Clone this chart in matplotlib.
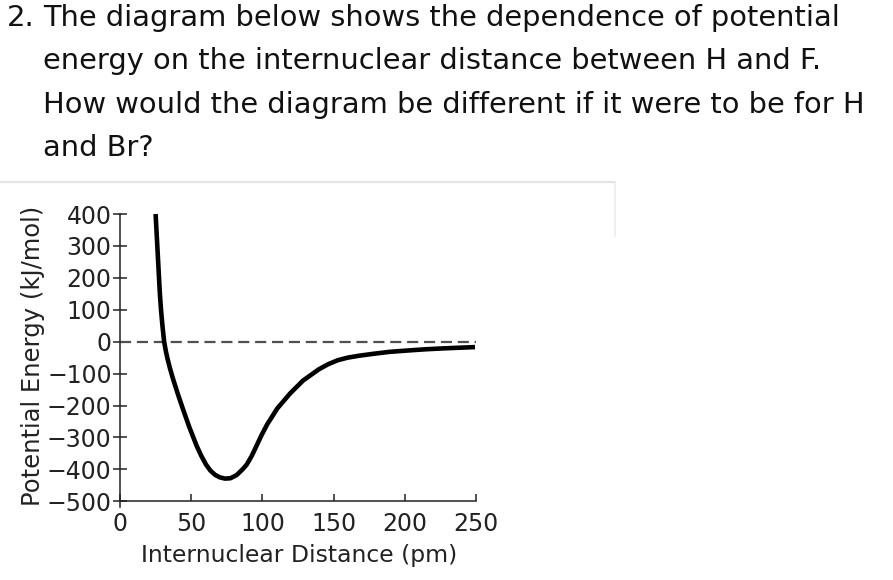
import matplotlib
matplotlib.use("Agg")
import matplotlib.pyplot as plt
from matplotlib.lines import Line2D

plt.rcParams['font.family'] = ['DejaVu Sans']

# curve (pm, kJ/mol)
distance = [25.0, 25.6, 26.2, 26.8, 27.4, 28.0, 28.8, 29.8, 31.0, 32.2, 33.5,
            35.0, 36.6, 38.4, 41.0, 44.5, 48.7, 53.8, 57.0, 60.4, 63.5, 66.7,
            70.0, 73.7, 77.5, 81.9, 86.5, 89.0, 92.5, 96.0, 99.5, 103.5,
            110.5, 119.5, 128.5, 139.5, 146.0, 153.0, 160.0, 168.0, 178.0,
            189.0, 201.0, 214.0, 227.0, 238.0, 249.3]
energy = [400, 350, 300, 250, 200, 150, 100, 50, 0, -30, -56,
          -82, -107, -133, -169, -215, -268, -326, -357, -385, -404, -417,
          -425, -429, -428, -418, -398, -385, -358, -325, -292, -258,
          -209, -162, -122, -87, -71, -58, -50, -44, -38,
          -32, -28, -24, -21, -19, -17]

xticks = [0, 50, 100, 150, 200, 250]
yticks = [400, 300, 200, 100, 0, -100, -200, -300, -400, -500]

question = ["The diagram below shows the dependence of potential",
            "energy on the internuclear distance between H and F.",
            "How would the diagram be different if it were to be for H",
            "and Br?"]

W, H = 893, 580
fig = plt.figure(figsize=(W / 100, H / 100), dpi=100)

# question text
fig.text(7 / W, 1 - 26 / H, "2.", fontsize=21, va='baseline', color='#111111')
for i, line in enumerate(question):
    fig.text(43 / W, 1 - (26 + 43.4 * i) / H, line, fontsize=20.8,
             va='baseline', color='#111111')

# light frame around the image block
fig.add_artist(Line2D([0, 615 / W], [1 - 182 / H, 1 - 182 / H],
                      color='#e4e4e4', lw=1.6))
fig.add_artist(Line2D([615 / W, 615 / W], [1 - 182 / H, 1 - 236 / H],
                      color='#ececec', lw=1.2))

ax = fig.add_axes([120 / W, 1 - 507 / H, 356 / W, (507 - 214) / H])
ax.set_xlim(0, 250)
ax.set_ylim(-518, 400)

ax.plot([0, 250], [0, 0], color='#505050', lw=1.6, dashes=(5, 2.6), clip_on=False)
ax.plot(distance, energy, color='black', lw=3.3, solid_joinstyle='round',
        solid_capstyle='butt', clip_on=False)

for s in ['top', 'right']:
    ax.spines[s].set_visible(False)
ax.spines['bottom'].set_position(('data', -500))
ax.spines['bottom'].set_bounds(0, 250)
for s in ['left', 'bottom']:
    ax.spines[s].set_color('#222222')
    ax.spines[s].set_linewidth(1.1)

ax.set_xticks(xticks)
ax.set_yticks(yticks)
ax.set_yticklabels([str(v).replace('-', '\u2212') for v in yticks])
ax.tick_params(axis='y', direction='inout', length=9.5, width=1.1, pad=1.2,
               labelsize=17, colors='#222222')
ax.tick_params(axis='x', direction='in', length=5, width=1.1, pad=7.5,
               labelsize=17, colors='#222222')

ax.set_xlabel("Internuclear Distance (pm)", fontsize=16.9, color='#222222')
ax.set_ylabel("Potential Energy (kJ/mol)", fontsize=17.5, color='#222222')
ax.xaxis.set_label_coords(0.504, -0.125)
ax.yaxis.set_label_coords(-0.212, 0.517)

fig.savefig("out.png", dpi=100)
